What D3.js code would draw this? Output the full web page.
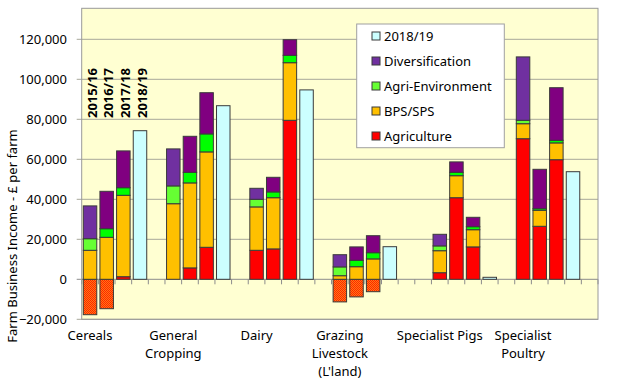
<!DOCTYPE html>
<html><head><meta charset="utf-8">
<script src="https://cdn.jsdelivr.net/npm/d3@7"></script>
<style>body{margin:0;background:#fff}svg{display:block}text{font-family:"Noto Sans",sans-serif}</style>
</head><body><svg id="c" width="624" height="381"></svg>
<script>
// ---- data ----
const groups = ["Cereals","General Cropping","Dairy","Grazing Livestock (L'land)","Specialist Pigs","Specialist Poultry"];
const groupLabelLines = [["Cereals"],["General","Cropping"],["Dairy"],["Grazing","Livestock","(L'land)"],["Specialist Pigs"],["Specialist","Poultry"]];
const years = ["2015/16","2016/17","2017/18","2018/19"];
const spacersAfter = [1,1,1,2,1,1];
// components for 2015/16, 2016/17, 2017/18 per group (£ per farm)
const agriculture     = [[-17700,-14700,1300],[0,5700,16000],[14500,15200,79500],[-11300,-8800,-6200],[3300,40800,16200],[70300,26500,59800]];
const bpsSps          = [[14500,21000,40700],[37800,42500,47700],[21700,25600,28800],[1800,6300,10200],[11000,11000,8600],[7500,8000,8400]];
const agriEnvironment = [[5800,4300,3800],[8900,5300,9000],[3800,2900,3700],[4400,3200,3100],[2400,1700,1500],[1700,800,1300]];
const diversification = [[16400,18700,18400],[18500,18000,20600],[5500,7300,7800],[6100,6700,8500],[5800,5200,4700],[31700,19700,26300]];
const total201819     = [74300,86800,94700,16300,1000,53800];
const yTicks = [-20000,0,20000,40000,60000,80000,100000,120000];
const legendItems = ["2018/19","Diversification","Agri-Environment","BPS/SPS","Agriculture"];

// ---- colours ----
const colLight = {"Diversification":"#7030A0","Agri-Environment":"#66FF33","BPS/SPS":"#FFC000","Agriculture":"#FF0000","2018/19":"#CCFFFF"};
const colDark  = {"Diversification":"#800080","Agri-Environment":"#00FF00","BPS/SPS":"#FFC000","Agriculture":"#FF0000"};

// ---- build slots ----
const slots = [];
groups.forEach((g,gi)=>{
  years.forEach((y,yi)=>slots.push({key:g+"|"+y,group:gi,year:yi}));
  for(let s=0;s<spacersAfter[gi];s++) slots.push({key:g+"|gap"+s,group:gi,year:-1});
});

const svg = d3.select("#c");
const L=81.7,R=598,T=8.3,B=319.3;
const x = d3.scaleBand().domain(slots.map(s=>s.key)).range([L,R]).paddingInner(0.19).paddingOuter(0.095);
const y = d3.scaleLinear().domain([-20000,135500]).range([B,T]);

// checker pattern for negative agriculture
const defs = svg.append("defs");
const pat = defs.append("pattern").attr("id","hatch").attr("width",2).attr("height",2).attr("patternUnits","userSpaceOnUse");
pat.append("rect").attr("width",2).attr("height",2).attr("fill","#FF2400");
pat.append("rect").attr("x",1).attr("y",0).attr("width",1).attr("height",1).attr("fill","#FF7A14");
pat.append("rect").attr("x",0).attr("y",1).attr("width",1).attr("height",1).attr("fill","#FF7A14");

// plot background
svg.append("rect").attr("x",L).attr("y",T).attr("width",R-L).attr("height",B-T).attr("fill","#FFFFD2");

// gridlines
svg.append("g").selectAll("line").data(yTicks).join("line")
  .attr("x1",L-5).attr("x2",R).attr("y1",d=>y(d)).attr("y2",d=>y(d))
  .attr("stroke",d=>d===0?"#8c8c8c":"#a8a89a").attr("stroke-width",1);

// category ticks at zero
const bounds = d3.range(slots.length+1).map(i=>L + i*x.step());
svg.append("g").selectAll("line").data(bounds).join("line")
  .attr("x1",d=>d).attr("x2",d=>d).attr("y1",y(0)).attr("y2",y(0)+5)
  .attr("stroke","#8c8c8c");

// plot border
svg.append("rect").attr("x",L).attr("y",T).attr("width",R-L).attr("height",B-T).attr("fill","none").attr("stroke","#999");

// stacked bars
const keys = ["Agriculture","BPS/SPS","Agri-Environment","Diversification"];
const srcs = {"Agriculture":agriculture,"BPS/SPS":bpsSps,"Agri-Environment":agriEnvironment,"Diversification":diversification};
const rows = [];
groups.forEach((g,gi)=>{ for(let yi=0;yi<3;yi++){ const r={key:g+"|"+years[yi],year:yi}; keys.forEach(k=>r[k]=srcs[k][gi][yi]); rows.push(r);} });
const series = d3.stack().keys(keys).offset(d3.stackOffsetDiverging)(rows);
const barG = svg.append("g");
series.forEach(s=>{
  barG.selectAll(null).data(s.filter(d=>d[1]!==d[0])).join("rect")
    .attr("x",d=>x(d.data.key)).attr("width",x.bandwidth())
    .attr("y",d=>y(Math.max(d[0],d[1]))).attr("height",d=>Math.abs(y(d[0])-y(d[1])))
    .attr("fill",d=>{ if(s.key==="Agriculture" && d[1]<=0 && d[0]<0) return "url(#hatch)"; return d.data.year===0?colLight[s.key]:colDark[s.key]; })
    .attr("stroke","#3a3a3a").attr("stroke-width",1);
});
// 2018/19 totals
barG.selectAll(null).data(groups.map((g,gi)=>({key:g+"|"+years[3],v:total201819[gi]}))).join("rect")
  .attr("x",d=>x(d.key)).attr("width",x.bandwidth())
  .attr("y",d=>y(d.v)).attr("height",d=>y(0)-y(d.v))
  .attr("fill",colLight["2018/19"]).attr("stroke","#3a3a3a").attr("stroke-width",1);

// y axis labels
svg.append("g").selectAll("text").data(yTicks).join("text")
  .attr("x",67).attr("y",d=>y(d)).attr("dy","0.35em").attr("text-anchor","end")
  .attr("font-size",13).text(d3.format(","));

// y title
svg.append("text").attr("transform","translate(12,236) rotate(-90)").attr("dy","0.35em")
  .attr("text-anchor","middle").attr("font-size",13).text("Farm Business Income - £ per farm");

// category labels (under first bar of each group)
groups.forEach((g,gi)=>{
  const cx = x(g+"|"+years[0]) + x.bandwidth()/2;
  const t = svg.append("text").attr("text-anchor","middle").attr("font-size",13);
  groupLabelLines[gi].forEach((ln,li)=>t.append("tspan").attr("x",cx).attr("y",340+li*18).text(ln));
});

// year labels over Cereals bars
svg.append("g").selectAll("text").data(years).join("text")
  .attr("transform",d=>`translate(${x(groups[0]+"|"+d)+x.bandwidth()/2+2},118) rotate(-90)`)
  .attr("dy","0.35em").attr("font-size",13).attr("font-weight","bold").text(d=>d);

// legend
const lg = svg.append("g");
lg.append("rect").attr("x",356.7).attr("y",24).attr("width",147.6).attr("height",123.7).attr("fill","#fff").attr("stroke","#a0a0a0");
legendItems.forEach((k,i)=>{
  const cy = 36 + i*25;
  lg.append("rect").attr("x",372).attr("y",cy-4).attr("width",8).attr("height",8).attr("fill",colLight[k]).attr("stroke","#3a3a3a");
  lg.append("text").attr("x",384).attr("y",cy).attr("dy","0.35em").attr("font-size",13).text(k);
});
</script></body></html>
